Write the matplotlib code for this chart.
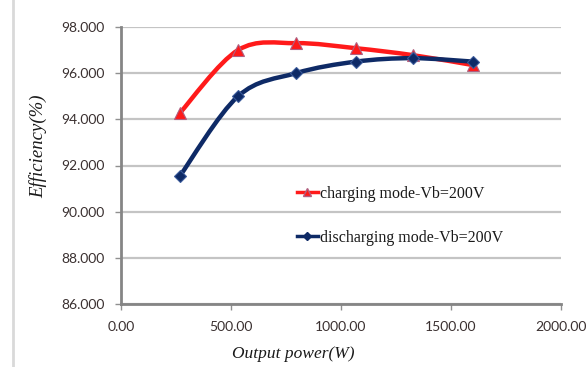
import matplotlib.pyplot as plt
from matplotlib.path import Path
from matplotlib.patches import PathPatch
import numpy as np

# data
power = [268, 532, 795, 1068, 1327, 1600]
charging = [94.28, 97.0, 97.3, 97.08, 96.78, 96.35]
discharging = [91.55, 95.0, 96.0, 96.5, 96.65, 96.5]

x_ticks = [0, 500, 1000, 1500, 2000]
y_ticks = [86, 88, 90, 92, 94, 96, 98]

red = '#ff1a1a'
navy = '#0e2a66'


def smooth_patch(ax, xs, ys, color):
    # excel-like smoothed line, drawn as bezier segments in data coords
    xs = np.asarray(xs, float)
    ys = np.asarray(ys, float)
    verts = [(xs[0], ys[0])]
    codes = [Path.MOVETO]
    n = len(xs)
    for i in range(n - 1):
        p0 = (xs[max(i - 1, 0)], ys[max(i - 1, 0)])
        p1 = (xs[i], ys[i])
        p2 = (xs[i + 1], ys[i + 1])
        p3 = (xs[min(i + 2, n - 1)], ys[min(i + 2, n - 1)])
        c1 = (p1[0] + (p2[0] - p0[0]) / 6, p1[1] + (p2[1] - p0[1]) / 6)
        c2 = (p2[0] - (p3[0] - p1[0]) / 6, p2[1] - (p3[1] - p1[1]) / 6)
        verts += [c1, c2, p2]
        codes += [Path.CURVE4] * 3
    ax.add_patch(PathPatch(Path(verts, codes), fill=False, edgecolor=color,
                           lw=3.2, capstyle='round', zorder=3))


fig = plt.figure(figsize=(5.87, 3.67), dpi=100)
ax = fig.add_axes([121 / 587, 1 - 304 / 367, 440 / 587, 277 / 367])

smooth_patch(ax, power, charging, red)
smooth_patch(ax, power, discharging, navy)

ax.plot(power, charging, ls='none', marker='^', ms=9, color=red,
        mec='#b06080', mew=0.8, zorder=4)
ax.plot(power, discharging, ls='none', marker='D', ms=6.5, color=navy,
        mec='#3a5a9a', mew=0.8, zorder=5)

# legend handles
h1, = ax.plot([], [], color=red, lw=2.5, marker='^', ms=6, mec='#b06080',
              label='charging mode-Vb=200V')
h2, = ax.plot([], [], color=navy, lw=2.5, marker='D', ms=4,
              label='discharging mode-Vb=200V')
leg = ax.legend(handles=[h1, h2], loc='upper left',
                bbox_to_anchor=((289 - 121) / 440, (304 - 178) / 277),
                frameon=False, handlelength=1.3, handletextpad=0.15,
                labelspacing=1.75, borderpad=0,
                prop={'family': 'Liberation Serif', 'size': 11.5})
for t in leg.get_texts():
    t.set_color('#1a1a1a')

ax.set_xlim(0, 2000)
ax.set_ylim(86, 98)
ax.set_xticks(x_ticks)
ax.set_yticks(y_ticks)
ax.set_xticklabels(['%.2f' % v for v in x_ticks])
ax.set_yticklabels(['%.3f' % v for v in y_ticks])
ax.grid(axis='y', color='#c4c4c4', lw=1.6)
ax.set_axisbelow(True)
for s in ['top', 'right']:
    ax.spines[s].set_visible(False)
for s in ['left', 'bottom']:
    ax.spines[s].set_color('#858585')
    ax.spines[s].set_linewidth(2)
ax.tick_params(axis='both', colors='#909090', length=4, width=1,
               labelcolor='#3a3030', labelsize=10)
for lab in ax.get_xticklabels() + ax.get_yticklabels():
    lab.set_family('Lato')
ax.tick_params(axis='y', pad=8)
ax.tick_params(axis='x', pad=8)

ax.set_xlabel('Output power(W)', family='Liberation Serif', style='italic',
              fontsize=12.5, color='#1a1a1a')
ax.xaxis.set_label_coords((293 - 121) / 440, -(354 - 304) / 277)
ax.set_ylabel('Efficiency(%)', family='Liberation Serif', style='italic',
              fontsize=13.5, color='#1a1a1a')
ax.yaxis.set_label_coords(-(121 - 38) / 440, (304 - 146) / 277)
ax.xaxis.label.set_va('center')
ax.yaxis.label.set_va('center')

# left frame line of the chart area
fig.add_artist(plt.Line2D([13 / 587, 13 / 587], [0, 1], color='#d9d9d9',
                          lw=2, transform=fig.transFigure))

fig.savefig('out.png', dpi=100)
